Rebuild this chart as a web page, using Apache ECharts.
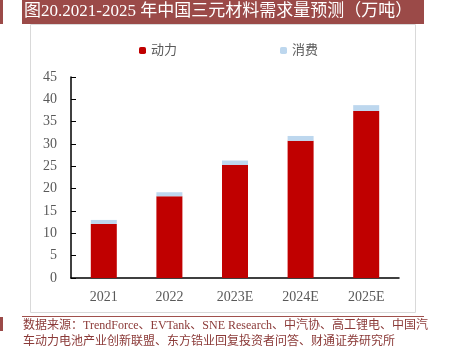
<!DOCTYPE html>
<html>
<head>
<meta charset="utf-8">
<script src="https://cdn.jsdelivr.net/npm/echarts@6/dist/echarts.min.js"></script>
<style>
html,body{margin:0;padding:0;background:#fff;}
#main{width:450px;height:353px;}
</style>
</head>
<body>
<div id="main"></div>
<script>
var years = ['2021', '2022', '2023E', '2024E', '2025E'];
var power = [12.1, 18.3, 25.3, 30.7, 37.4];
var consumer = [0.9, 0.9, 1.0, 1.1, 1.3];
var yTicks = [0, 5, 10, 15, 20, 25, 30, 35, 40, 45];

var chart = echarts.init(document.getElementById('main'));
var serif = '"Times New Roman","Liberation Serif","Noto Sans CJK SC",serif';
var option = {
	animation: false,
	graphic: [
		{type: 'rect', shape: {x: 0, y: 0, width: 3, height: 24}, style: {fill: '#9b4a48'}},
		{type: 'rect', shape: {x: 22, y: 0, width: 402, height: 24}, style: {fill: '#9b4a48'}},
		{type: 'text', left: 24, top: 3, style: {text: '图20.2021-2025 年中国三元材料需求量预测（万吨）', fill: '#fff', font: '17px ' + serif}},
		{type: 'rect', shape: {x: 30.5, y: 24.5, width: 385, height: 288}, style: {fill: 'none', stroke: '#d9d9d9', lineWidth: 1}},
		{type: 'line', shape: {x1: 22, y1: 316.5, x2: 424, y2: 316.5}, style: {stroke: '#a0504c', lineWidth: 1}},
		{type: 'rect', shape: {x: 0, y: 317, width: 3, height: 14}, style: {fill: '#9b4a48'}},
		{type: 'text', left: 23, top: 320, style: {text: '数据来源：TrendForce、EVTank、SNE Research、中汽协、高工锂电、中国汽', fill: '#8b3a38', font: '12px ' + serif}},
		{type: 'text', left: 23, top: 336, style: {text: '车动力电池产业创新联盟、东方锆业回复投资者问答、财通证券研究所', fill: '#8b3a38', font: '12px ' + serif}}
	],
	legend: {
		left: 134,
		top: 39,
		itemWidth: 7,
		itemHeight: 7,
		itemGap: 103,
		textStyle: {color: '#595959', fontSize: 13, fontFamily: serif},
		data: ['动力', '消费']
	},
	grid: {left: 71, right: 51, top: 77, bottom: 75},
	xAxis: {
		type: 'category',
		data: years,
		axisLine: {lineStyle: {color: '#000', width: 1.5}},
		axisTick: {show: false},
		axisLabel: {color: '#595959', fontSize: 14, fontFamily: serif, margin: 12}
	},
	yAxis: {
		type: 'value',
		min: yTicks[0],
		max: yTicks[yTicks.length - 1],
		interval: 5,
		splitLine: {show: false},
		axisLine: {show: true, lineStyle: {color: '#000', width: 1.5}},
		axisTick: {show: true, inside: true, length: 5, lineStyle: {color: '#000'}},
		axisLabel: {color: '#595959', fontSize: 14, fontFamily: serif, margin: 14}
	},
	series: [
		{name: '动力', type: 'bar', stack: 'total', barWidth: 26, data: power, itemStyle: {color: '#c00000'}},
		{name: '消费', type: 'bar', stack: 'total', barWidth: 26, data: consumer, itemStyle: {color: '#bdd7ee'}}
	]
};
chart.setOption(option);
</script>
</body>
</html>
